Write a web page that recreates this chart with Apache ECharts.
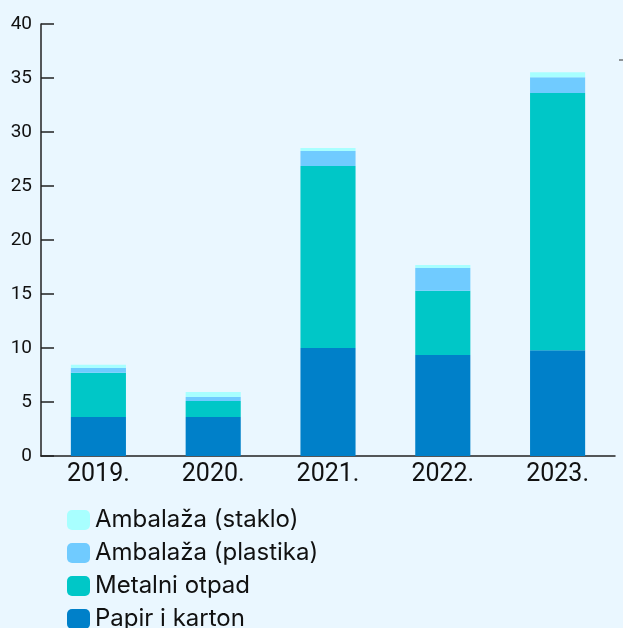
<!DOCTYPE html>
<html>
<head>
<meta charset="utf-8">
<script src="https://cdn.jsdelivr.net/npm/echarts@6/dist/echarts.min.js"></script>
<style>
  html, body { margin: 0; padding: 0; background: #eaf7ff; }
  #main { width: 623px; height: 628px; }
</style>
</head>
<body>
<div id="main"></div>
<script>
// godine
const years = ['2019.', '2020.', '2021.', '2022.', '2023.'];
// vrijednosti po kategoriji
const papir = [3.6, 3.6, 10.0, 9.35, 9.8];
const metal = [4.1, 1.5, 16.85, 5.95, 23.8];
const plastika = [0.45, 0.37, 1.4, 2.1, 1.48];
const staklo = [0.3, 0.45, 0.28, 0.28, 0.45];
const yTicks = [0, 5, 10, 15, 20, 25, 30, 35, 40];

const names = ['Ambalaža (staklo)', 'Ambalaža (plastika)', 'Metalni otpad', 'Papir i karton'];
const colors = { papir: '#0080c9', metal: '#00c7c7', plastika: '#70cbff', staklo: '#a8ffff' };

let myChart = echarts.init(document.getElementById('main'));

function bar(name, data, color) {
  return {
    name: name, type: 'bar', stack: 'total', data: data,
    barWidth: '48%',
    itemStyle: { color: color },
    emphasis: { disabled: true }
  };
}

const option = {
  backgroundColor: '#eaf7ff',
  animation: false,
  grid: { left: 41, right: 8, top: 24, bottom: 172, containLabel: false },
  legend: {
    orient: 'vertical', left: 67, top: 508, height: 200, padding: 0,
    itemWidth: 23, itemHeight: 20, itemGap: 9,
    icon: 'roundRect',
    data: names,
    textStyle: { fontFamily: 'Inter', fontSize: 24, lineHeight: 22, color: '#111', padding: [0, 0, 0, 0] }
  },
  xAxis: {
    type: 'category', data: years,
    axisLine: { lineStyle: { color: '#222', width: 1.5 } },
    axisTick: { inside: true, length: 14, lineStyle: { color: '#222', width: 1.5 } },
    axisLabel: { fontFamily: 'Roboto', fontSize: 25, color: '#111', margin: 6 }
  },
  yAxis: {
    type: 'value', min: 0, max: 40, interval: 5,
    splitLine: { show: false },
    axisLine: { show: true, lineStyle: { color: '#222', width: 1.5 } },
    axisTick: { show: true, inside: true, length: 13, lineStyle: { color: '#222', width: 1.5 } },
    axisLabel: {
      fontFamily: 'Roboto', fontSize: 19, color: '#111', margin: 9,
      formatter: v => yTicks.includes(v) ? String(v) : ''
    }
  },
  series: [
    bar('Papir i karton', papir, colors.papir),
    bar('Metalni otpad', metal, colors.metal),
    bar('Ambalaža (plastika)', plastika, colors.plastika),
    bar('Ambalaža (staklo)', staklo, colors.staklo)
  ],
  graphic: [
    { type: 'line', shape: { x1: 619, y1: 60, x2: 623, y2: 60 }, style: { stroke: '#333', lineWidth: 1 } }
  ]
};

myChart.setOption(option);
</script>
</body>
</html>
